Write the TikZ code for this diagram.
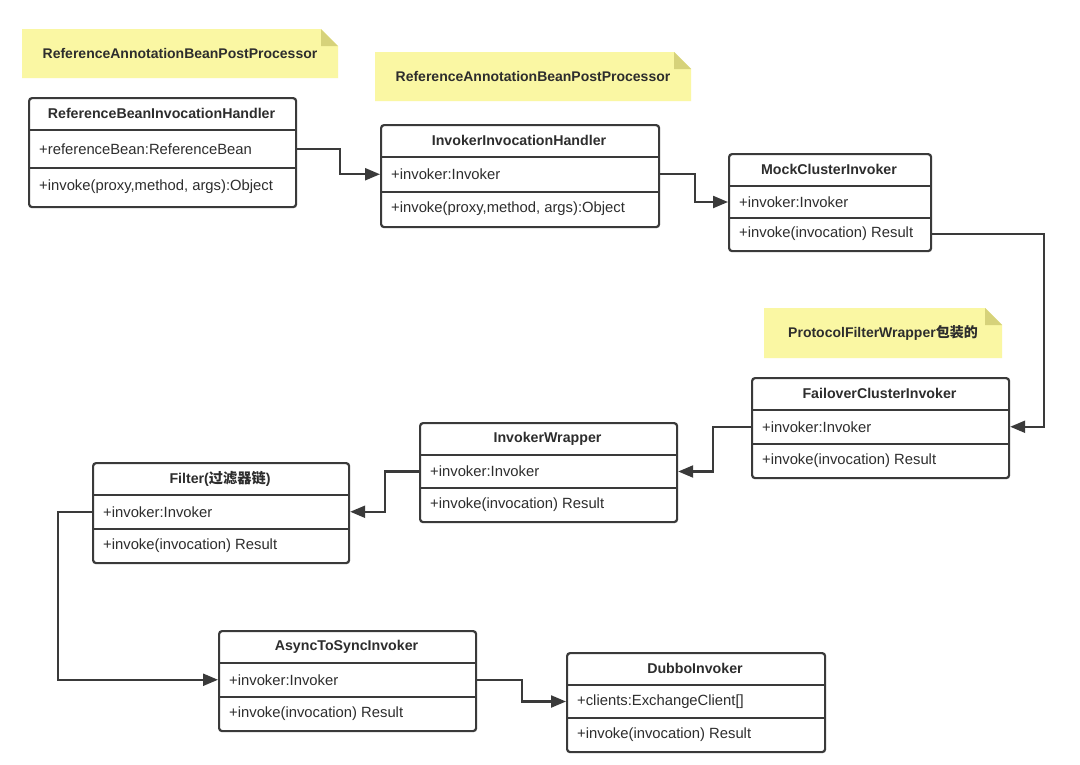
\documentclass[tikz,border=0pt]{standalone}
\usepackage{fontspec}
\setmainfont{Liberation Sans}
\newfontfamily\cjk{Noto Sans CJK SC}
\usetikzlibrary{arrows.meta}
\definecolor{linec}{RGB}{58,58,58}
\definecolor{notefill}{RGB}{250,247,163}
\definecolor{notefold}{RGB}{214,210,122}
\definecolor{textc}{RGB}{45,45,45}
\tikzset{
  boxframe/.style={draw=linec, line width=2.2, rounded corners=3, fill=white, inner sep=0, anchor=north west},
  divider/.style={draw=linec, line width=2},
  titletext/.style={font=\fontsize{14.2}{16}\selectfont\bfseries, text=textc, inner sep=0},
  rowtext/.style={font=\fontsize{14.8}{17}\selectfont, text=textc, inner sep=0, anchor=west},
  conn/.style={draw=linec, line width=2.2, -{Triangle[length=15,width=12]}},
  notetext/.style={font=\fontsize{14}{16}\selectfont\bfseries, text=textc, inner sep=0},
}
\newcommand\umlclass[8]{%
  \pgfmathsetmacro\uYa{#3+33}%
  \pgfmathsetmacro\uYb{(#3+33+#5)/2}%
  \pgfmathsetmacro\uTc{(#3+\uYa)/2}%
  \pgfmathsetmacro\uRa{(\uYa+\uYb)/2}%
  \pgfmathsetmacro\uRb{(\uYb+#5)/2}%
  \pgfmathsetmacro\uW{#4-#2}%
  \pgfmathsetmacro\uH{#5-#3}%
  \node[boxframe, minimum width=\uW pt, minimum height=\uH pt] (#1) at (#2,#3) {};
  \draw[divider] (#2,\uYa) -- (#4,\uYa);
  \draw[divider] (#2,\uYb) -- (#4,\uYb);
  \node[titletext] (#1-t) at ({(#2+#4)/2},\uTc) {#6};
  \node[rowtext] (#1-a) at ({#2+11},\uRa) {#7};
  \node[rowtext] (#1-b) at ({#2+11},\uRb) {#8};
}
\newcommand\umlnote[6]{%
  \fill[notefill] (#2,#3) -- ({#4-17},#3) -- (#4,{#3+17}) -- (#4,#5) -- (#2,#5) -- cycle;
  \fill[notefold] ({#4-17},#3) -- (#4,{#3+17}) -- ({#4-17},{#3+17}) -- cycle;
  \node[notetext] (#1) at ({(#2+#4)/2},{(#3+#5)/2}) {#6};
}
\begin{document}
\begin{tikzpicture}[x=1pt,y=-1pt]
\useasboundingbox[fill=white] (0,0) rectangle (1080,764);
\umlnote{n1}{22}{29}{338}{78}{ReferenceAnnotationBeanPostProcessor}
\umlnote{n2}{375}{52}{691}{101}{ReferenceAnnotationBeanPostProcessor}
\umlnote{n3}{764}{308}{1002}{358}{ProtocolFilterWrapper{\cjk 包装的}}

\umlclass{rbih}{28}{97}{295}{206}{ReferenceBeanInvocationHandler}{+referenceBean:ReferenceBean}{+invoke(proxy,method, args):Object}
\umlclass{iih}{380}{124}{658}{226}{InvokerInvocationHandler}{+invoker:Invoker}{+invoke(proxy,method, args):Object}
\umlclass{mci}{728}{153}{930}{250}{MockClusterInvoker}{+invoker:Invoker}{+invoke(invocation) Result}
\umlclass{fci}{751}{377}{1008}{477}{FailoverClusterInvoker}{+invoker:Invoker}{+invoke(invocation) Result}
\umlclass{iw}{419}{422}{676}{521}{InvokerWrapper}{+invoker:Invoker}{+invoke(invocation) Result}
\umlclass{filter}{92}{462}{348}{562}{Filter({\cjk 过滤器链})}{+invoker:Invoker}{+invoke(invocation) Result}
\umlclass{ats}{218}{630}{475}{730}{AsyncToSyncInvoker}{+invoker:Invoker}{+invoke(invocation) Result}
\umlclass{dubbo}{566}{652}{824}{751}{DubboInvoker}{+clients:ExchangeClient[]}{+invoke(invocation) Result}

\draw[conn] (rbih.east |- rbih-a) -- ++(43,0) |- (iih.west |- iih-a);
\draw[conn] (iih.east |- iih-a) -- ++(35,0) |- (mci.west |- mci-a);
\draw[conn] (mci.east |- mci-b) -- ++(112,0) |- (fci.east |- fci-a);
\draw[conn] (fci.west |- fci-a) -- ++(-38,0) |- (iw.east |- iw-a);
\draw[conn] (iw.west |- iw-a) -- ++(-34,0) |- (filter.east |- filter-a);
\draw[conn] (filter.west |- filter-a) -- ++(-34,0) |- (ats.west |- ats-a);
\draw[conn] (ats.east |- ats-a) -- ++(45,0) |- (dubbo.west |- dubbo-a);
\end{tikzpicture}
\end{document}
